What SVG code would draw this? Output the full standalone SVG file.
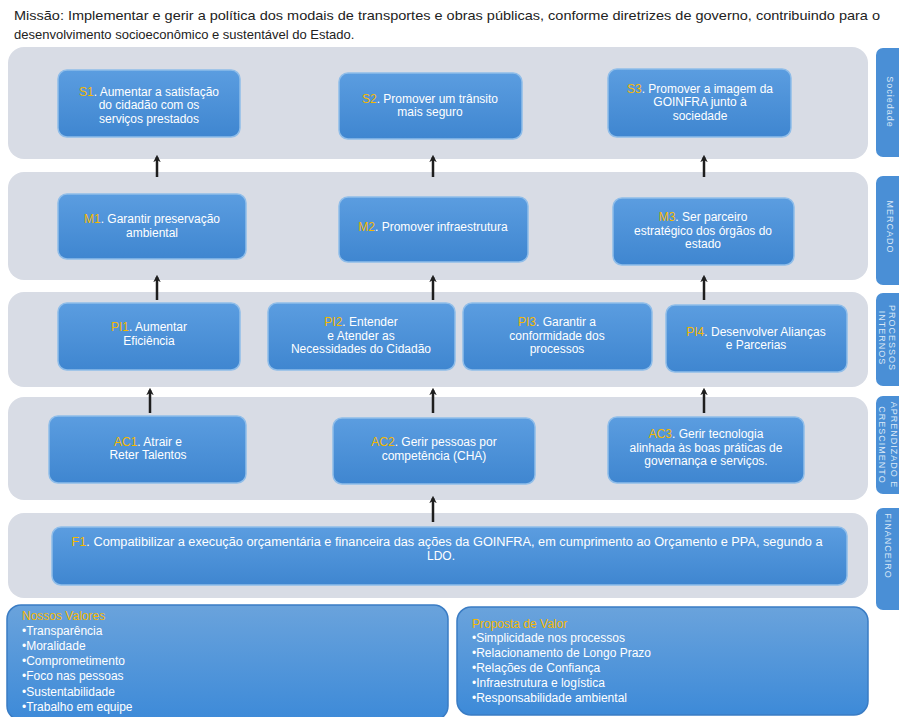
<svg xmlns="http://www.w3.org/2000/svg" width="899" height="717" viewBox="0 0 899 717">
<style>
.mission{font-family:"Liberation Sans",Arial,sans-serif;font-size:13px;fill:#222}
.band{fill:#d8dce5}
.node{fill:url(#nodeGrad);stroke:#8fbde9;stroke-width:1.5}
.t{font-family:"Liberation Sans",Arial,sans-serif;font-size:12px;fill:#fff;text-anchor:middle}
.k{fill:#f5b800}
.tab{fill:#4a8fd6}
.tabt{font-family:"Liberation Sans",Arial,sans-serif;font-size:9px;fill:#dbe8f6;text-anchor:middle;letter-spacing:1px}
.box{fill:url(#boxGrad);stroke:#3a7cc4;stroke-width:1.5}
.bt{font-family:"Liberation Sans",Arial,sans-serif;font-size:12px;fill:#fff}
.conn line{stroke:#1e1e1e;stroke-width:2.5;marker-end:url(#ah)}
</style>
<defs>
<linearGradient id="nodeGrad" x1="0" y1="0" x2="0" y2="1">
<stop offset="0" stop-color="#5b9de0"/>
<stop offset="1" stop-color="#3f86d0"/>
</linearGradient>
<linearGradient id="boxGrad" x1="0" y1="0" x2="0" y2="1">
<stop offset="0" stop-color="#6aa3dc"/>
<stop offset="1" stop-color="#3d8ad8"/>
</linearGradient>
<marker id="ah" viewBox="0 0 10 10" refX="7" refY="5" markerWidth="3" markerHeight="3" orient="auto" markerUnits="strokeWidth">
<path d="M0,0 L10,5 L0,10 L3,5 Z" fill="#1e1e1e"/>
</marker>
</defs>
<rect width="899" height="717" fill="#fff"/>

<g id="mission">
<text class="mission" x="14" y="20" textLength="866" lengthAdjust="spacingAndGlyphs">Missão: Implementar e gerir a política  dos modais de transportes e obras públicas, conforme diretrizes de governo, contribuindo para o</text>
<text class="mission" x="14" y="39">desenvolvimento  socioeconômico e sustentável do Estado.</text>
</g>

<g id="bands">
<rect class="band" x="8" y="47" width="860" height="112" rx="16"/>
<rect class="band" x="8" y="172" width="860" height="108" rx="16"/>
<rect class="band" x="8" y="292" width="860" height="95" rx="16"/>
<rect class="band" x="8" y="397" width="860" height="103" rx="16"/>
<rect class="band" x="8" y="513" width="860" height="85" rx="16"/>
</g>

<g id="tabs">
<g id="tab-sociedade"><rect class="tab" x="876" y="48" width="40" height="109" rx="7"/><text class="tabt" transform="translate(887,102) rotate(90)">Sociedade</text></g>
<g id="tab-mercado"><rect class="tab" x="876" y="176" width="40" height="109" rx="7"/><text class="tabt" transform="translate(887,227) rotate(90)">MERCADO</text></g>
<g id="tab-processos"><rect class="tab" x="876" y="293" width="40" height="93" rx="7"/><text class="tabt" transform="translate(879,338) rotate(90)">INTERNOS</text><text class="tabt" transform="translate(889,338) rotate(90)">PROCESSOS</text></g>
<g id="tab-aprendizado"><rect class="tab" x="876" y="396" width="40" height="98" rx="7"/><text class="tabt" transform="translate(879,445) rotate(90)">CRESCIMENTO</text><text class="tabt" transform="translate(891,445) rotate(90)">APRENDIZADO E</text></g>
<g id="tab-financeiro"><rect class="tab" x="876" y="508" width="40" height="102" rx="7"/><text class="tabt" transform="translate(885,546) rotate(90)">FINANCEIRO</text></g>
</g>

<g id="connectors" class="conn">
<line x1="157" y1="177" x2="157" y2="157"/>
<line x1="433" y1="177" x2="433" y2="157"/>
<line x1="704" y1="177" x2="704" y2="157"/>
<line x1="157" y1="300" x2="157" y2="277"/>
<line x1="433" y1="300" x2="433" y2="277"/>
<line x1="704" y1="300" x2="704" y2="277"/>
<line x1="150" y1="413" x2="150" y2="390"/>
<line x1="433" y1="413" x2="433" y2="390"/>
<line x1="704" y1="413" x2="704" y2="390"/>
<line x1="433" y1="522" x2="433" y2="498"/>
</g>

<g id="S1"><rect class="node" x="58" y="70" width="182" height="67" rx="9"/>
<text class="t" x="149" y="95.5"><tspan class="k">S1</tspan>. Aumentar a satisfação</text>
<text class="t" x="149" y="109">do cidadão com os</text>
<text class="t" x="149" y="122.5">serviços prestados</text></g>

<g id="S2"><rect class="node" x="339" y="73" width="183" height="66" rx="9"/>
<text class="t" x="430" y="102.5"><tspan class="k">S2</tspan>. Promover um trânsito</text>
<text class="t" x="430" y="116">mais seguro</text></g>

<g id="S3"><rect class="node" x="608" y="69" width="183" height="68" rx="9"/>
<text class="t" x="700" y="92.5"><tspan class="k">S3</tspan>. Promover a imagem da</text>
<text class="t" x="700" y="106">GOINFRA junto à</text>
<text class="t" x="700" y="119.5">sociedade</text></g>

<g id="M1"><rect class="node" x="58" y="194" width="188" height="65" rx="9"/>
<text class="t" x="152" y="223"><tspan class="k">M1</tspan>. Garantir preservação</text>
<text class="t" x="152" y="236.5">ambiental</text></g>

<g id="M2"><rect class="node" x="339" y="197" width="189" height="65" rx="9"/>
<text class="t" x="433" y="231"><tspan class="k">M2</tspan>. Promover infraestrutura</text></g>

<g id="M3"><rect class="node" x="613" y="198" width="181" height="67" rx="9"/>
<text class="t" x="703" y="221"><tspan class="k">M3</tspan>. Ser parceiro</text>
<text class="t" x="703" y="234.5">estratégico dos órgãos do</text>
<text class="t" x="703" y="248">estado</text></g>

<g id="PI1"><rect class="node" x="58" y="303" width="182" height="67" rx="9"/>
<text class="t" x="149" y="331"><tspan class="k">PI1</tspan>. Aumentar</text>
<text class="t" x="149" y="344.5">Eficiência</text></g>

<g id="PI2"><rect class="node" x="268" y="303" width="187" height="67" rx="9"/>
<text class="t" x="361" y="326"><tspan class="k">PI2</tspan>. Entender</text>
<text class="t" x="361" y="339.5">e Atender as</text>
<text class="t" x="361" y="353">Necessidades  do Cidadão</text></g>

<g id="PI3"><rect class="node" x="463" y="303" width="189" height="67" rx="9"/>
<text class="t" x="557" y="326"><tspan class="k">PI3</tspan>. Garantir a</text>
<text class="t" x="557" y="339.5">conformidade dos</text>
<text class="t" x="557" y="353">processos</text></g>

<g id="PI4"><rect class="node" x="666" y="305" width="181" height="67" rx="9"/>
<text class="t" x="756" y="335.5"><tspan class="k">PI4</tspan>. Desenvolver Alianças</text>
<text class="t" x="756" y="349">e Parcerias</text></g>

<g id="AC1"><rect class="node" x="49" y="416" width="197" height="67" rx="9"/>
<text class="t" x="148" y="445.5"><tspan class="k">AC1</tspan>. Atrair e</text>
<text class="t" x="148" y="459">Reter Talentos</text></g>

<g id="AC2"><rect class="node" x="333" y="418" width="202" height="66" rx="9"/>
<text class="t" x="434" y="446"><tspan class="k">AC2</tspan>. Gerir pessoas por</text>
<text class="t" x="434" y="459.5">competência (CHA)</text></g>

<g id="AC3"><rect class="node" x="608" y="417" width="196" height="66" rx="9"/>
<text class="t" x="706" y="438"><tspan class="k">AC3</tspan>. Gerir tecnologia</text>
<text class="t" x="706" y="451.5">alinhada às boas práticas de</text>
<text class="t" x="706" y="465">governança e serviços.</text></g>

<g id="F1"><rect class="node" x="52" y="527" width="795" height="58" rx="9"/>
<text class="t" x="447" y="546" textLength="751" lengthAdjust="spacingAndGlyphs"><tspan class="k">F1</tspan>. Compatibilizar a execução orçamentária e financeira das ações da GOINFRA, em cumprimento ao Orçamento e PPA, segundo a</text>
<text class="t" x="441" y="560">LDO.</text></g>

<g id="valores"><rect class="box" x="7" y="605" width="441" height="115" rx="14"/>
<text class="bt" x="22" y="620"><tspan class="k">Nossos Valores</tspan></text>
<text class="bt" x="22" y="634.5">•Transparência</text>
<text class="bt" x="22" y="649.8">•Moralidade</text>
<text class="bt" x="22" y="665.1">•Comprometimento</text>
<text class="bt" x="22" y="680.4">•Foco nas pessoas</text>
<text class="bt" x="22" y="695.7">•Sustentabilidade</text>
<text class="bt" x="22" y="711">•Trabalho em equipe</text></g>

<g id="proposta"><rect class="box" x="457" y="607" width="411" height="108" rx="14"/>
<text class="bt" x="472" y="627.5"><tspan class="k">Proposta de Valor</tspan></text>
<text class="bt" x="472" y="642">•Simplicidade nos processos</text>
<text class="bt" x="472" y="657">•Relacionamento de Longo Prazo</text>
<text class="bt" x="472" y="672">•Relações de Confiança</text>
<text class="bt" x="472" y="687">•Infraestrutura e logística</text>
<text class="bt" x="472" y="702">•Responsabilidade ambiental</text></g>
</svg>
